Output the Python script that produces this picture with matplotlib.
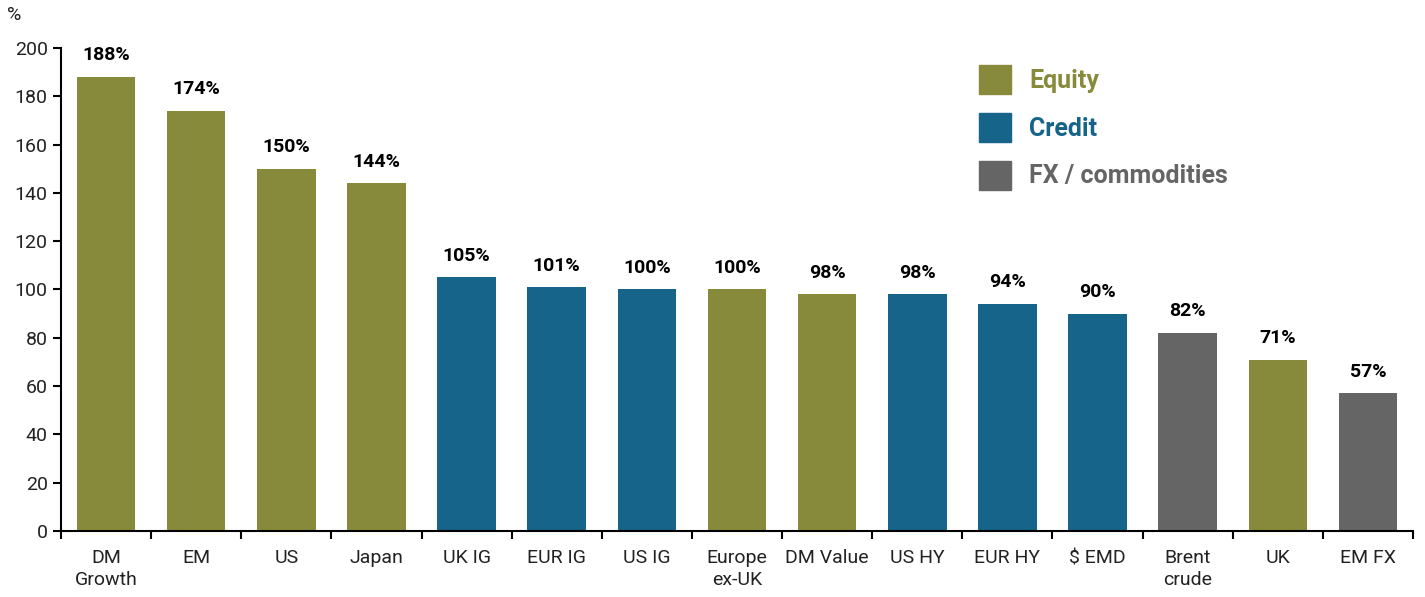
import matplotlib.pyplot as plt
from matplotlib import font_manager
from matplotlib.patches import Patch

# data
categories = ['DM\nGrowth', 'EM', 'US', 'Japan', 'UK IG', 'EUR IG', 'US IG',
              'Europe\nex-UK', 'DM Value', 'US HY', 'EUR HY', '$ EMD',
              'Brent\ncrude', 'UK', 'EM FX']
values = [188, 174, 150, 144, 105, 101, 100, 100, 98, 98, 94, 90, 82, 71, 57]
groups = ['Equity', 'Equity', 'Equity', 'Equity', 'Credit', 'Credit', 'Credit',
          'Equity', 'Equity', 'Credit', 'Credit', 'Credit',
          'FX / commodities', 'Equity', 'FX / commodities']

colors = {'Equity': '#878A3A', 'Credit': '#17648A', 'FX / commodities': '#656565'}

names = {f.name for f in font_manager.fontManager.ttflist}
font = 'Liberation Sans Narrow' if 'Liberation Sans Narrow' in names else 'Roboto'
plt.rcParams['font.family'] = [font, 'DejaVu Sans']

fig = plt.figure(figsize=(14.25, 5.97), dpi=100)
ax = fig.add_axes([0.0428, 0.1106, 0.9488, 0.809])

x = list(range(len(categories)))
ax.bar(x, values, width=0.65, color=[colors[g] for g in groups])

for xi, v in zip(x, values):
    ax.annotate(f'{v}%', (xi, v), xytext=(0, 9), textcoords='offset points',
                ha='center', va='bottom', fontsize=14, fontweight='bold',
                color='black')

ax.set_xlim(-0.5, len(categories) - 0.5)
ax.set_ylim(0, 200)
ax.set_yticks(range(0, 201, 20))
ax.set_xticks(x)
ax.set_xticklabels(categories, fontsize=14, color='#222222', linespacing=1.3)
ax.set_xticks([i + 0.5 for i in range(-1, len(categories))], minor=True)
ax.tick_params(axis='x', which='major', length=0, pad=13)
ax.tick_params(axis='x', which='minor', length=6, width=1.5, direction='out')
ax.tick_params(axis='y', length=6, width=1.5, labelsize=14, labelcolor='#222222')

for side in ['top', 'right']:
    ax.spines[side].set_visible(False)
ax.spines['left'].set_linewidth(1.5)
ax.spines['bottom'].set_linewidth(1.5)

fig.text(0.005, 0.99, '%', fontsize=14, va='top', ha='left', color='#222222')

handles = [Patch(color=colors[k]) for k in colors]
leg = ax.legend(handles, list(colors.keys()), loc='upper left',
                bbox_to_anchor=(0.666, 1.0), frameon=False, fontsize=18,
                handlelength=1.3, handleheight=1.4, handletextpad=0.7,
                labelspacing=0.75, borderaxespad=0.3)
for t, k in zip(leg.get_texts(), colors):
    t.set_color(colors[k])
    t.set_fontweight('bold')

fig.savefig('out.png', dpi=100)
